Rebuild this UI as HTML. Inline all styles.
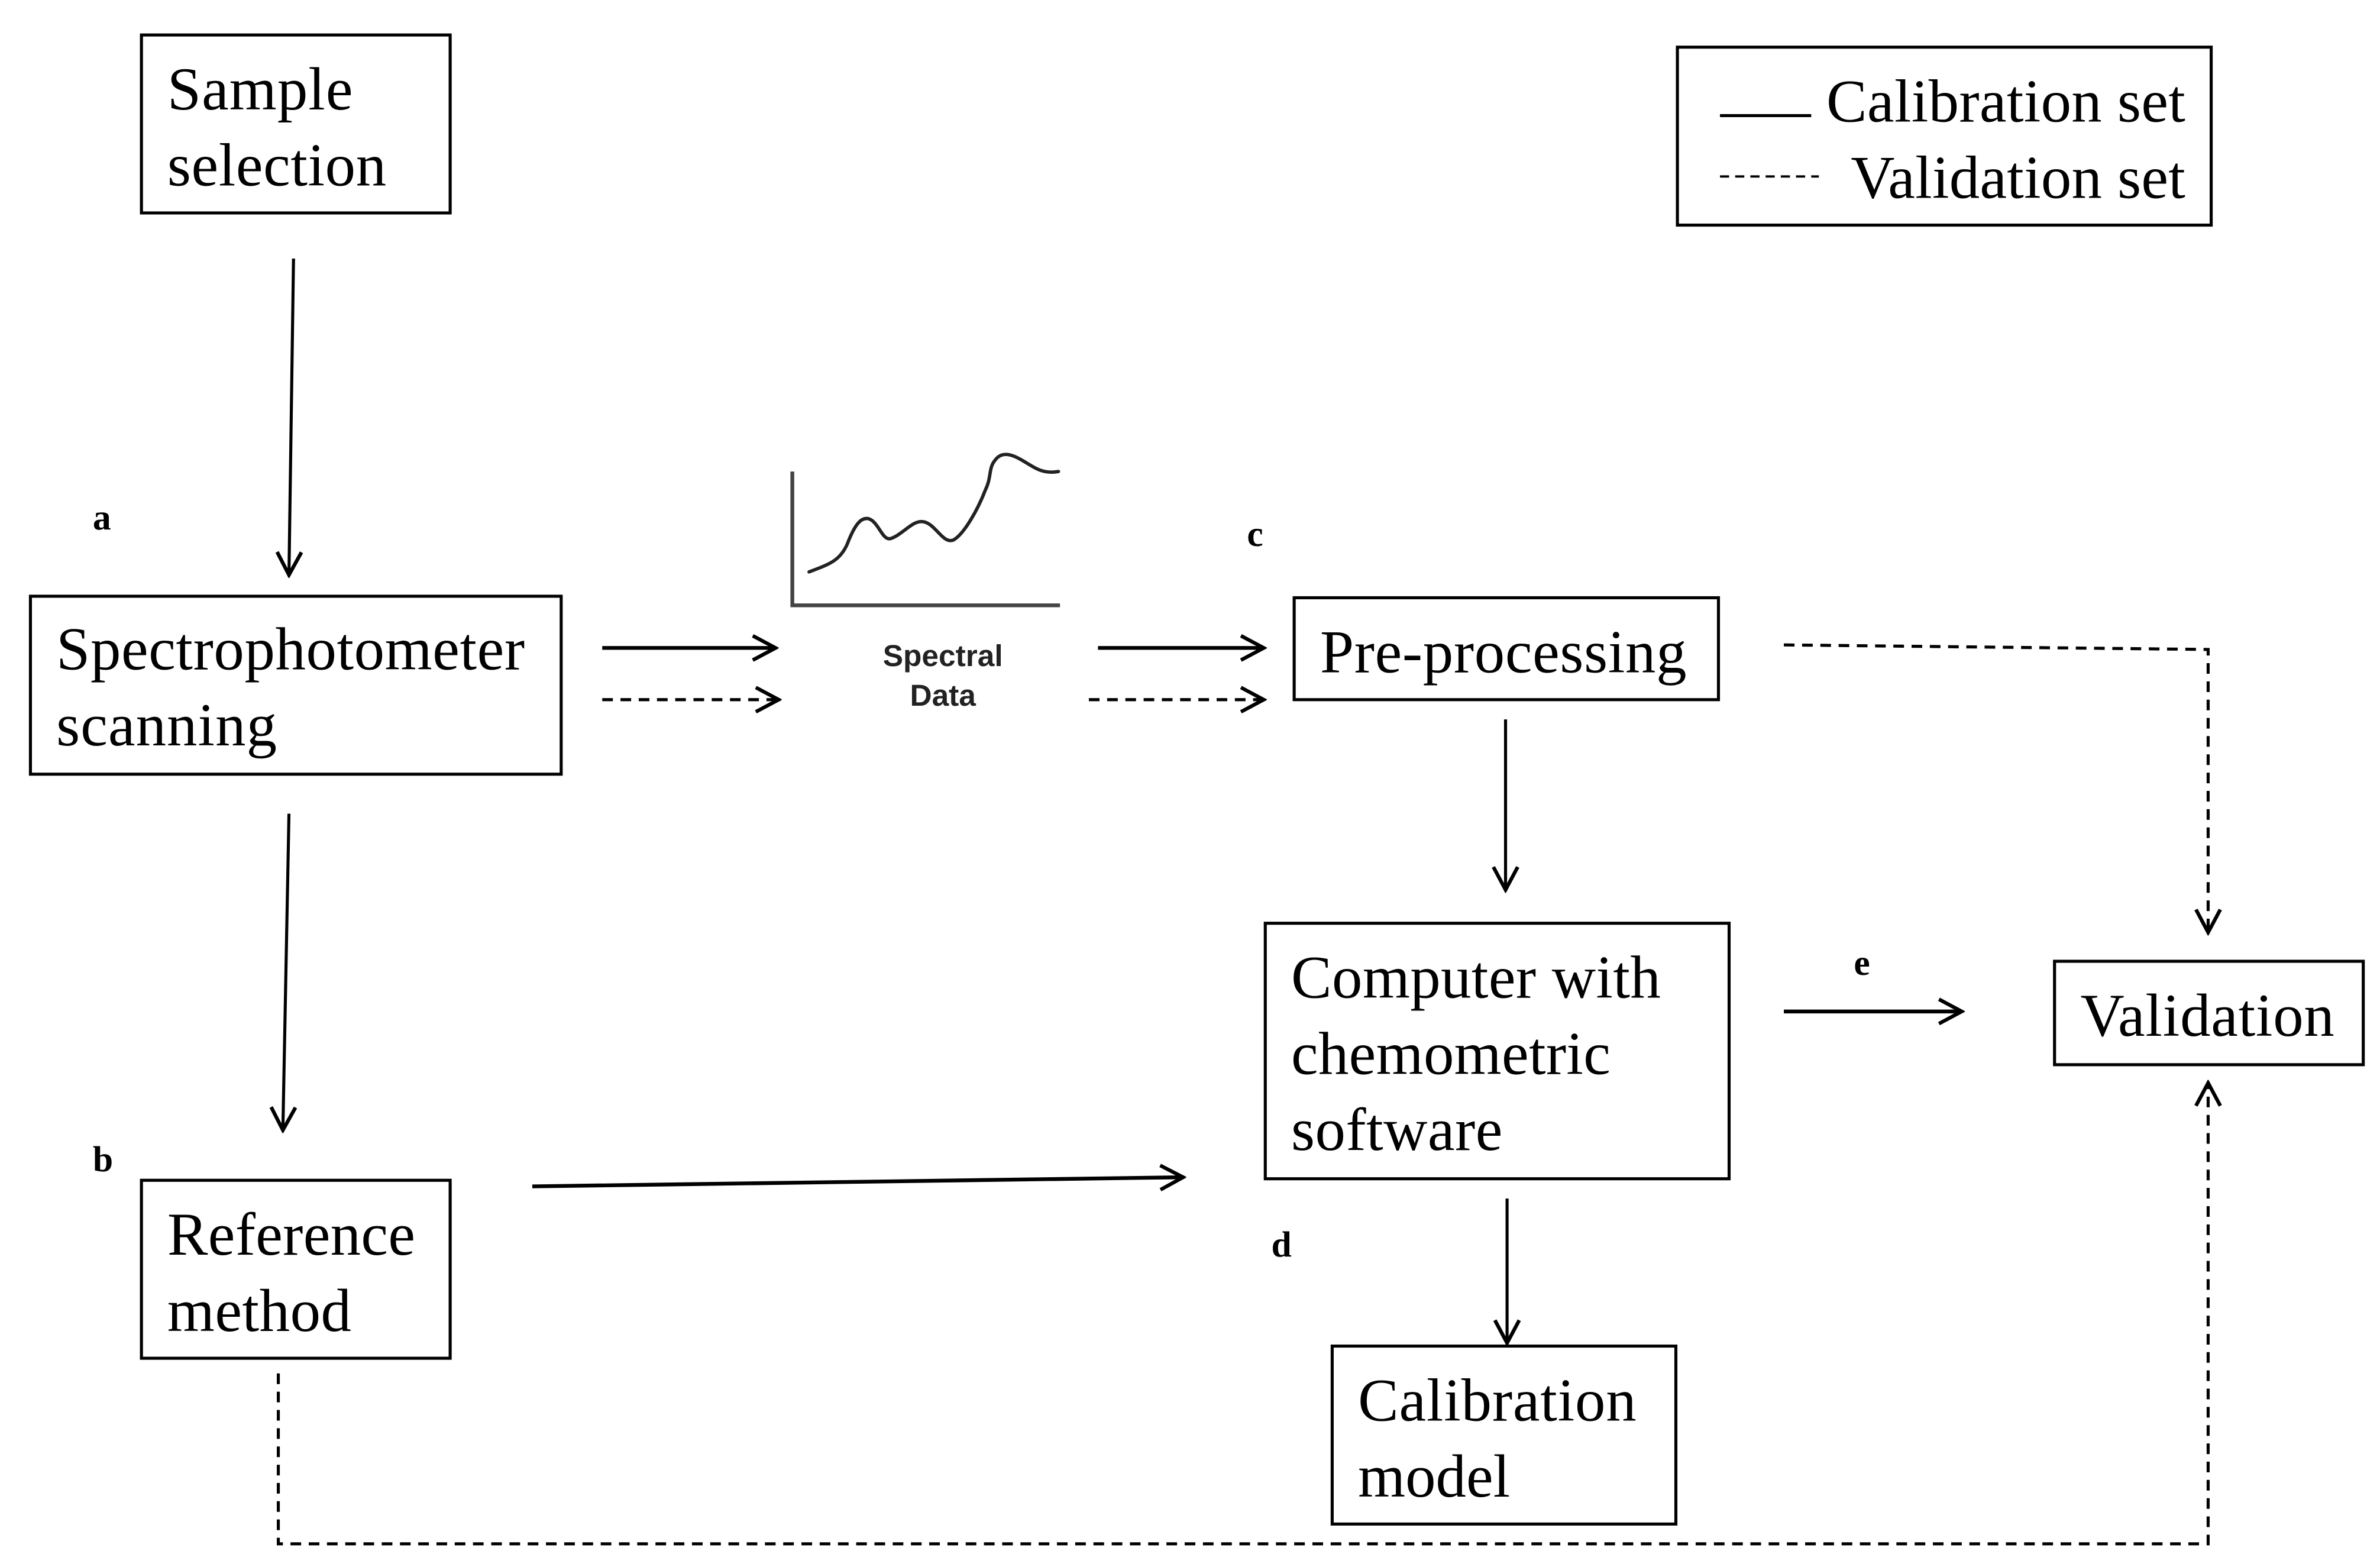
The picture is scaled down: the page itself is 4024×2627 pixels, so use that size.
<!DOCTYPE html>
<html><head><meta charset="utf-8"><style>html,body{margin:0;padding:0;background:#fff}svg{display:block}</style></head>
<body>
<svg width="4024" height="2627" viewBox="0 0 1565 1021.7" xmlns="http://www.w3.org/2000/svg">
<defs>
<marker id="ah" viewBox="0 0 20 20" refX="18" refY="10" markerWidth="20" markerHeight="20" markerUnits="userSpaceOnUse" orient="auto">
<path d="M3,2 L18,10 L3,18" fill="none" stroke="#000" stroke-width="2.4"/>
</marker>
</defs>
<rect width="1565" height="1022" fill="#fff"/>
<g fill="none" stroke="#000" stroke-width="2">
<rect x="93" y="23" width="203" height="117"/>
<rect x="1103" y="31" width="351" height="117"/>
<rect x="20" y="392" width="349" height="117"/>
<rect x="851" y="393" width="279" height="67"/>
<rect x="832" y="607" width="305" height="168"/>
<rect x="1351" y="632" width="203" height="68"/>
<rect x="93" y="776" width="203" height="117"/>
<rect x="876" y="885" width="226" height="117"/>
<line x1="1131" y1="76" x2="1191" y2="76"/>
<line x1="1131" y1="116" x2="1196" y2="116" stroke-dasharray="6,4" stroke-width="1.5"/>
<g marker-end="url(#ah)">
<line x1="193" y1="170" x2="190" y2="378"/>
<line x1="190" y1="535" x2="186" y2="743"/>
<line x1="396" y1="426" x2="510" y2="426" stroke-width="2.5"/>
<line x1="396" y1="460" x2="512" y2="460" stroke-dasharray="7,5"/>
<line x1="722" y1="426" x2="831" y2="426" stroke-width="2.5"/>
<line x1="716" y1="460" x2="831" y2="460" stroke-dasharray="7,5"/>
<line x1="990" y1="473" x2="990" y2="585"/>
<line x1="1173" y1="665" x2="1290" y2="665" stroke-width="2.5"/>
<line x1="350" y1="780" x2="778" y2="774" stroke-width="2.5"/>
<line x1="991" y1="788" x2="991" y2="883"/>
<polyline points="1173,424 1452,427 1452,613" stroke-dasharray="7,5"/>
<polyline points="183,903 183,1015 1452,1015 1452,712" stroke-dasharray="7,5"/>
</g>
<polyline points="521,310 521,398 697,398" stroke="#444" stroke-width="2.5"/>
<path d="M532,376 C545,371 552,369 557,358 C562,345 566,340 571,341 C578,343 580,356 586,354 C594,351 600,342 607,343 C615,344 620,358 627,355 C634,351 643,335 648,322 C652,314 650,308 654,303 C658,297 664,298 671,302 C680,307 685,312 696,310" fill="none" stroke="#222" stroke-width="2.2" stroke-linecap="round"/>
</g>
<g font-family="'Liberation Serif', serif" font-size="40" fill="#000">
<text x="110" y="72" textLength="122">Sample</text>
<text x="110" y="122" textLength="144">selection</text>
<text x="1201" y="80" textLength="236">Calibration set</text>
<text x="1217" y="130" textLength="220">Validation set</text>
<text x="37" y="440" textLength="308">Spectrophotometer</text>
<text x="37" y="490" textLength="145">scanning</text>
<text x="868" y="442" textLength="241">Pre-processing</text>
<text x="849" y="656" textLength="243">Computer with</text>
<text x="849" y="706" textLength="210">chemometric</text>
<text x="849" y="756" textLength="139">software</text>
<text x="1368" y="681" textLength="167">Validation</text>
<text x="110" y="825" textLength="163">Reference</text>
<text x="110" y="875" textLength="121">method</text>
<text x="893" y="934" textLength="183">Calibration</text>
<text x="893" y="984" textLength="100">model</text>
</g>
<g font-family="'Liberation Serif', serif" font-size="24" font-weight="bold" fill="#000">
<text x="61" y="348">a</text>
<text x="61" y="770">b</text>
<text x="820" y="359">c</text>
<text x="836" y="826">d</text>
<text x="1219" y="641">e</text>
</g>
<g font-family="'Liberation Sans', sans-serif" font-size="20" font-weight="bold" fill="#222" text-anchor="middle">
<text x="620" y="438">Spectral</text>
<text x="620" y="464">Data</text>
</g>
</svg>
</body></html>
